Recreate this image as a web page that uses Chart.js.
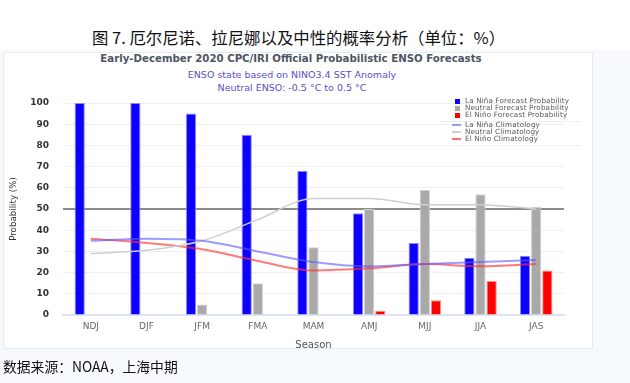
<!DOCTYPE html>
<html><head><meta charset="utf-8">
<script src="https://cdn.jsdelivr.net/npm/chart.js@4"></script>
<style>
html,body{margin:0;padding:0;}
body{width:630px;height:383px;position:relative;overflow:hidden;background:#f6f9fd;font-family:"DejaVu Sans",sans-serif;}
#topband{position:absolute;left:0;top:0;width:630px;height:50px;background:#fff;}
#box{position:absolute;left:3px;top:52px;width:588px;height:295px;background:#fff;border:1px solid #e8ecf2;}
.t{position:absolute;white-space:nowrap;}
#cn{left:92px;top:27.5px;font-size:16.4px;line-height:18px;font-family:"Noto Sans CJK SC";color:#111;}
#ttl{left:0;width:582px;text-align:center;top:52px;font-size:10.2px;line-height:13px;font-weight:bold;color:#4b5662;}
.sub{left:0;width:584px;text-align:center;font-size:9.5px;line-height:12px;color:#5a4fc8;}
#foot{left:3px;top:357px;font-size:13.8px;line-height:18px;font-family:"Noto Sans CJK SC";color:#111;}
canvas{position:absolute;left:0;top:0;}
#legend{position:absolute;left:440px;top:95px;width:142px;height:55px;}
.lg{position:absolute;left:25px;font-size:7.2px;line-height:8px;color:#555;white-space:nowrap;letter-spacing:0.15px;}
.sq{position:absolute;left:15px;width:5px;height:5px;}
.ln{position:absolute;left:12px;width:9px;height:1.5px;}
.sep{position:absolute;left:0;width:141px;height:1px;background:#eeeeee;}
</style></head>
<body>
<div id="topband"></div>
<div id="box"></div>
<div class="t" id="cn">图 7. 厄尔尼诺、拉尼娜以及中性的概率分析（单位：%）</div>
<div class="t" id="ttl">Early-December 2020 CPC/IRI Official Probabilistic ENSO Forecasts</div>
<div class="t sub" style="top:69px">ENSO state based on NINO3.4 SST Anomaly</div>
<div class="t sub" style="top:82px">Neutral ENSO: -0.5 °C to 0.5 °C</div>
<canvas id="c" width="630" height="383"></canvas>
<div id="legend">
  <div class="sq" style="top:3.5px;background:#0d00ff"></div><div class="lg" style="top:2px">La Niña Forecast Probability</div>
  <div class="sq" style="top:10.5px;background:#a9a9a9"></div><div class="lg" style="top:9px">Neutral Forecast Probability</div>
  <div class="sq" style="top:17.5px;background:#ff0000"></div><div class="lg" style="top:16px">El Niño Forecast Probability</div>
  <div class="sep" style="top:25.5px"></div>
  <div class="ln" style="top:29px;background:rgba(90,90,255,0.6)"></div><div class="lg" style="top:25.5px">La Niña Climatology</div>
  <div class="ln" style="top:36px;background:#d0d0d0"></div><div class="lg" style="top:32.5px">Neutral Climatology</div>
  <div class="ln" style="top:43px;background:rgba(255,50,50,0.7)"></div><div class="lg" style="top:39.5px">El Niño Climatology</div>
  <div class="sep" style="top:50px"></div>
</div>
<div class="t" id="foot">数据来源：NOAA，上海中期</div>
<script>
const categories = ['NDJ','DJF','JFM','FMA','MAM','AMJ','MJJ','JJA','JAS'];
const laNinaProb = [100,100,95,85,68,48,34,27,28];
const neutralProb = [0,0,5,15,32,50,59,57,51];
const elNinoProb = [0,0,0,0,0,2,7,16,21];
const laNinaClim = [35,36,35,30,25,23,24,25,26];
const neutralClim = [29,30.5,35,45,55,55,52,52,50];
const elNinoClim = [36,34,31,25.5,21,22,24,23,24];
const yTicks = [0,10,20,30,40,50,60,70,80,90,100];

const barOpts = {categoryPercentage:0.6, barPercentage:0.92, borderWidth:1, order:1};
const lineOpts = {type:'line', pointRadius:0, borderWidth:2, tension:0.4, cubicInterpolationMode:'monotone', fill:false, order:0};

new Chart(document.getElementById('c'), {
  type:'bar',
  data:{
    labels:categories,
    datasets:[
      Object.assign({label:'La Niña Climatology', data:laNinaClim, borderColor:'rgba(90,90,255,0.6)'}, lineOpts),
      Object.assign({label:'Neutral Climatology', data:neutralClim, borderColor:'#cfcfcf'}, lineOpts, {borderWidth:1.5}),
      Object.assign({label:'El Niño Climatology', data:elNinoClim, borderColor:'rgba(255,50,50,0.65)'}, lineOpts),
      Object.assign({label:'La Niña Forecast Probability', data:laNinaProb, backgroundColor:'#0d00ff', borderColor:'#8a8aff'}, barOpts),
      Object.assign({label:'Neutral Forecast Probability', data:neutralProb, backgroundColor:'#a9a9a9', borderColor:'#cfcfcf'}, barOpts),
      Object.assign({label:'El Niño Forecast Probability', data:elNinoProb, backgroundColor:'#ff0000', borderColor:'#ff8a8a'}, barOpts)
    ]
  },
  options:{
    responsive:false, animation:false, devicePixelRatio:1,
    layout:{padding:{left:0,top:103,right:66,bottom:28}},
    plugins:{legend:{display:false}, tooltip:{enabled:false}},
    scales:{
      x:{
        grid:{display:false, drawTicks:false},
        border:{color:'#dce4f2', width:2},
        ticks:{font:{family:'DejaVu Sans',size:9}, color:'#666', padding:6},
        title:{display:true, text:'Season', font:{family:'DejaVu Sans',size:10}, color:'#4a5560', padding:{top:0,bottom:4}},
        afterFit(s){ s.height = 40; }
      },
      y:{
        min:0, max:100,
        afterBuildTicks(s){ s.ticks = yTicks.map(v=>({value:v})); },
        ticks:{font:{family:'DejaVu Sans',size:9,weight:'bold'}, color:'#333', padding:14},
        grid:{drawTicks:false, color:c=>(c.tick && c.tick.value===50)?'#8c8c8c':'#efefef', lineWidth:c=>(c.tick && c.tick.value===50)?2:1},
        border:{display:false},
        title:{display:true, text:'Probability (%)', font:{family:'DejaVu Sans',size:8.7}, color:'#333', padding:{top:9,bottom:0}},
        afterFit(s){ s.width = 63; }
      }
    }
  }
});
</script>
</body></html>
